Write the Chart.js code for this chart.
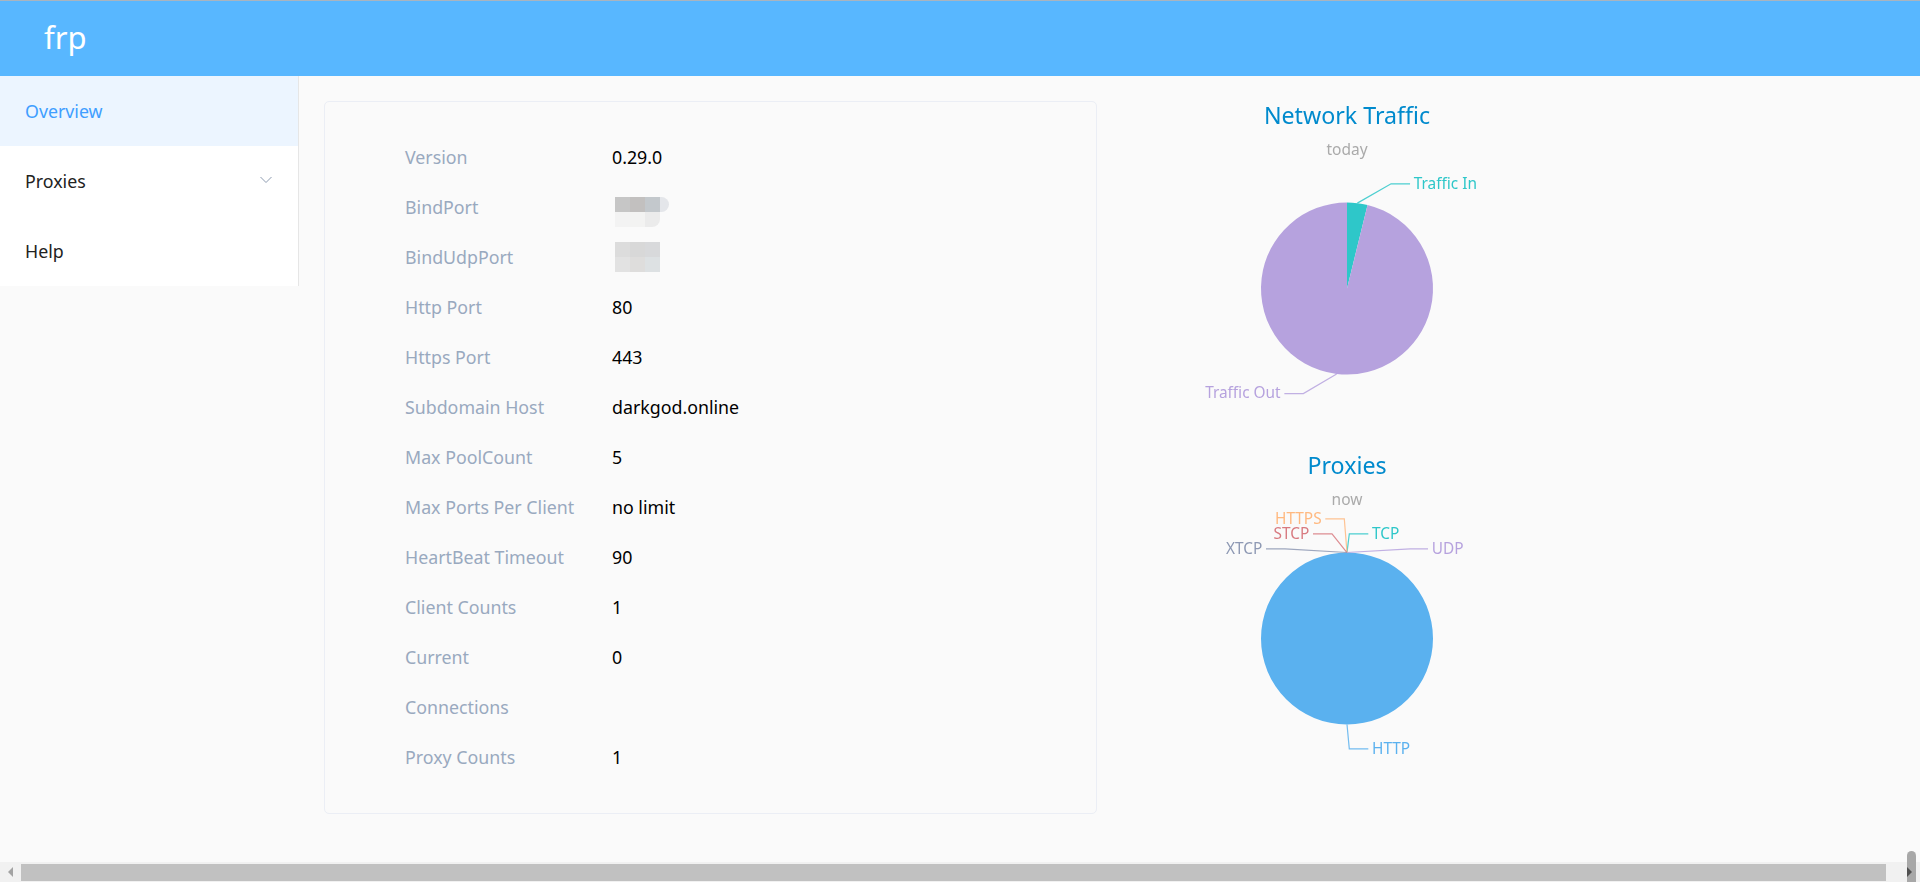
<!DOCTYPE html>
<html>
<head>
<meta charset="utf-8">
<title>frp</title>
<script src="https://cdn.jsdelivr.net/npm/chart.js@4"></script>
<style>
*{box-sizing:border-box}
html,body{margin:0;padding:0;width:1920px;height:882px;overflow:hidden;background:#fafafa;font-family:"Noto Sans","Open Sans",sans-serif}
.abs{position:absolute}
#topline{left:0;top:0;width:1920px;height:1px;background:#a9b4bf}
#header{left:0;top:1px;width:1920px;height:75px;background:#58b7ff}
#logo{left:44px;top:15px;color:#fff;font-size:31px;line-height:44px}
#side{left:0;top:76px;width:299px;height:210px;background:#fff;border-right:1px solid #e6e6e6}
.menu{position:absolute;left:0;width:298px;height:70px;line-height:70px;padding-left:25px;font-size:17.8px;color:#222}
.menu.on{background:#ecf5ff;color:#409eff}
#chev{left:260px;top:176px}
#card{left:324px;top:101px;width:773px;height:713px;border:1px solid #ebeef5;border-radius:5px;background:#fafafa}
.lab,.val{position:absolute;font-size:17.8px;line-height:24px;white-space:nowrap}
.lab{left:405px;color:#99a9bf}
.val{left:612px;color:#000}
.mos{position:absolute;width:15px;height:15px}
canvas{position:absolute}
#track{left:0;top:862px;width:1920px;height:20px;background:#f1f1f1}
#thumb{left:21px;top:864px;width:1865px;height:17px;background:#c1c1c1}
#vthumb{left:1907px;top:851px;width:9px;height:31px;background:#a8a8a8;border-radius:5px 5px 0 0}
#la{left:8px;top:867px;width:0;height:0;border-top:5px solid transparent;border-bottom:5px solid transparent;border-right:5px solid #a3a3a3}
#ra{left:1907px;top:867px;width:0;height:0;border-top:5px solid transparent;border-bottom:5px solid transparent;border-left:5px solid #505050}
</style>
</head>
<body>
<div id="topline" class="abs"></div>
<div id="header" class="abs"></div>
<div id="logo" class="abs">frp</div>
<div id="side" class="abs">
  <div class="menu on" style="top:0">Overview</div>
  <div class="menu" style="top:70px">Proxies</div>
  <div class="menu" style="top:140px">Help</div>
</div>
<svg id="chev" class="abs" width="12" height="8"><polyline points="0.5,1 6,6.5 11.5,1" fill="none" stroke="#8d9bb0" stroke-width="1"/></svg>
<div id="card" class="abs"></div>
<div id="rows"></div>
<canvas id="traffic" width="490" height="340" style="left:1102px;top:100px;width:490px;height:340px"></canvas>
<canvas id="proxies" width="490" height="340" style="left:1102px;top:450px;width:490px;height:340px"></canvas>
<div id="track" class="abs"></div>
<div id="thumb" class="abs"></div>
<div id="la" class="abs"></div>
<div id="vthumb" class="abs"></div>
<div id="ra" class="abs"></div>
<script>
// ---- data ----
const infoLabels = ["Version","BindPort","BindUdpPort","Http Port","Https Port","Subdomain Host","Max PoolCount","Max Ports Per Client","HeartBeat Timeout","Client Counts","Current","Connections","Proxy Counts"];
const infoValues = ["0.29.0","","","80","443","darkgod.online","5","no limit","90","1","0","","1"];
const trafficLabels = ["Traffic In","Traffic Out"];
const trafficValues = [3.84,96.16];
const proxyLabels = ["TCP","UDP","HTTP","HTTPS","STCP","XTCP"];
const proxyValues = [0,0,1,0,0,0];

// ---- styles ----
const trafficColors = ["#2ec7c9","#b6a2de"];
const proxyColors = ["#2ec7c9","#b6a2de","#5ab1ef","#ffb980","#d87a80","#8d98b3"];
// leader line layout: elbow offset from the slice's outer edge, then horizontal run
const trafficLeaders = [{dx:33.7,dy:-19.3,run:19},{dx:-33.3,dy:19.7,run:-19}];
const proxyLeaders = [
  {dx:2.3,dy:-18.7,run:19},{dx:63,dy:-3.7,run:18},{dx:2.3,dy:24.3,run:19},
  {dx:-2.7,dy:-33.7,run:-19},{dx:-15,dy:-18.7,run:-19},{dx:-62,dy:-3.7,run:-19}
];
const mosaicCells = [
  [615,197,"#c6c6c6"],[630,197,"#c2c0bf"],[645,197,"#c3c8cc"],[660,197,"#e4e6ea"],
  [615,212,"#f3f3f3"],[630,212,"#f3f3f2"],[645,212,"#ebebeb"],
  [615,242,"#dcdcdc"],[630,242,"#d8d8d8"],[645,242,"#d8d9db"],
  [615,257,"#e2e2e2"],[630,257,"#dedddc"],[645,257,"#dde1e3"]
];

// ---- info table ----
const rows = document.getElementById("rows");
infoLabels.forEach((t,i)=>{
  const y = 157 + 50*i - 12;
  const a = document.createElement("div"); a.className="lab"; a.style.top=y+"px"; a.textContent=t; rows.appendChild(a);
  if(infoValues[i]){
    const b = document.createElement("div"); b.className="val"; b.style.top=y+"px"; b.textContent=infoValues[i]; rows.appendChild(b);
  }
});
mosaicCells.forEach(c=>{
  const d=document.createElement("div"); d.className="mos";
  d.style.left=c[0]+"px"; d.style.top=c[1]+"px"; d.style.background=c[2];
  if(c[0]===660){d.style.width="9px";d.style.borderRadius="0 8px 8px 0";}
  if(c[0]===645&&c[1]===212){d.style.borderRadius="0 0 8px 0";}
  rows.appendChild(d);
});

// ---- leader label plugin ----
const leaderPlugin = {
  id:"leaders",
  afterDatasetsDraw(chart,args,opts){
    const ctx=chart.ctx, arcs=chart.getDatasetMeta(0).data, names=chart.data.labels, cols=chart.data.datasets[0].backgroundColor;
    ctx.save();
    ctx.font='15.4px "Noto Sans","Open Sans",sans-serif';
    ctx.textBaseline="middle";
    ctx.lineWidth=1.2;
    arcs.forEach((arc,i)=>{
      const p=arc.getProps(["x","y","startAngle","endAngle","outerRadius"],true);
      const m=(p.startAngle+p.endAngle)/2;
      const sx=p.x+Math.cos(m)*p.outerRadius, sy=p.y+Math.sin(m)*p.outerRadius;
      const l=opts.layout[i], ex=sx+l.dx, ey=sy+l.dy, tx=ex+l.run;
      ctx.strokeStyle=cols[i]; ctx.globalAlpha=0.85;
      ctx.beginPath(); ctx.moveTo(sx,sy); ctx.lineTo(ex,ey); ctx.lineTo(tx,ey); ctx.stroke();
      ctx.globalAlpha=1;
      ctx.fillStyle=cols[i];
      ctx.textAlign=l.run>0?"left":"right";
      ctx.fillText(names[i],tx+(l.run>0?3.7:-3.7),ey+0.5);
    });
    ctx.restore();
  }
};

function makePie(id,labels,values,colors,titleText,subText,layout){
  return new Chart(document.getElementById(id),{
    type:"pie",
    data:{labels:labels,datasets:[{data:values,backgroundColor:colors,borderWidth:0,radius:86}]},
    plugins:[leaderPlugin],
    options:{
      responsive:false,animation:false,devicePixelRatio:1,
      layout:{padding:{bottom:22.4}},
      plugins:{
        legend:{display:false},tooltip:{enabled:false},
        title:{display:true,text:titleText,color:"#008acd",font:{family:'"Noto Sans","Open Sans",sans-serif',size:23.2,weight:"normal"},padding:{top:3.5,bottom:9.5}},
        subtitle:{display:true,text:subText,color:"#aaaaaa",font:{family:'"Noto Sans","Open Sans",sans-serif',size:15.5,weight:"normal"},padding:{top:0,bottom:0}},
        leaders:{layout:layout}
      }
    }
  });
}
makePie("traffic",trafficLabels,trafficValues,trafficColors,"Network Traffic","today",trafficLeaders);
makePie("proxies",proxyLabels,proxyValues,proxyColors,"Proxies","now",proxyLeaders);
</script>
</body>
</html>
